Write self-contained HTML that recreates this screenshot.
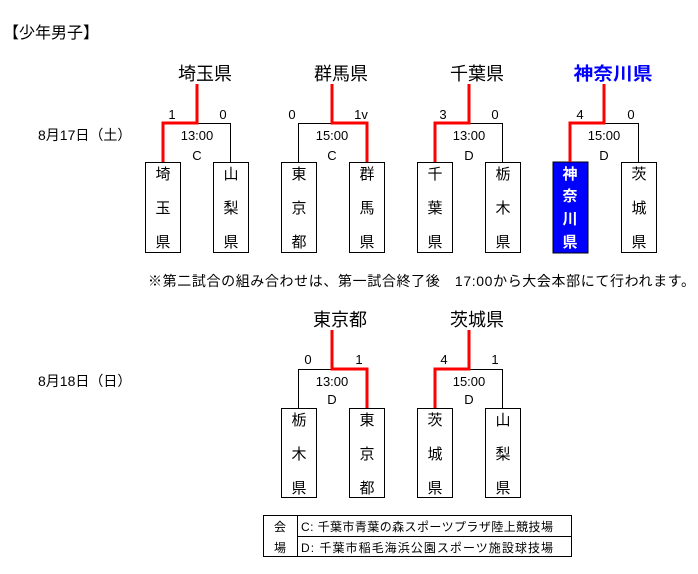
<!DOCTYPE html>
<html><head><meta charset="utf-8"><style>
body{margin:0;background:#fff;}
svg{display:block;font-family:"Liberation Sans","Noto Sans CJK JP",sans-serif;}
</style></head><body>
<svg width="698" height="574" viewBox="0 0 698 574" xmlns="http://www.w3.org/2000/svg">
<g font-size="15" fill="#000">
<text x="3" y="38" font-size="16">【少年男子】</text>
<text x="38" y="140" font-size="14">8月17日（土）</text>
<text x="38" y="386" font-size="14">8月18日（日）</text>
<text x="148" y="286" font-size="14" textLength="547" lengthAdjust="spacing">※第二試合の組み合わせは、第一試合終了後　17:00から大会本部にて行われます。</text>
</g>
<g fill="none" stroke="#000" stroke-width="1">
<rect x="145.5" y="162.5" width="35" height="90"/><rect x="213.5" y="162.5" width="35" height="90"/>
<rect x="281.5" y="162.5" width="35" height="90"/><rect x="349.5" y="162.5" width="35" height="90"/>
<rect x="417.5" y="162.5" width="35" height="90"/><rect x="485.5" y="162.5" width="35" height="90"/>
<rect x="621.5" y="162.5" width="35" height="90"/>
<rect x="281.5" y="408.5" width="35" height="89"/><rect x="349.5" y="408.5" width="35" height="89"/>
<rect x="417.5" y="408.5" width="35" height="89"/><rect x="485.5" y="408.5" width="35" height="89"/>
<polyline points="197,123.5 230.5,123.5 230.5,162"/>
<polyline points="332,123.5 298.5,123.5 298.5,162"/>
<polyline points="469,123.5 502.5,123.5 502.5,162"/>
<polyline points="604,123.5 638.5,123.5 638.5,162"/>
<polyline points="332,369.5 298.5,369.5 298.5,408"/>
<polyline points="469,369.5 502.5,369.5 502.5,408"/>
</g>
<rect x="553" y="162" width="35" height="91" fill="#0000ff" stroke="#000"/>
<g fill="none" stroke="#ff0000" stroke-width="3">
<polyline points="197,84 197,123 163,123 163,162"/>
<polyline points="332,84 332,123 367,123 367,162"/>
<polyline points="469,84 469,123 435,123 435,162"/>
<polyline points="604,84 604,123 570,123 570,162"/>
<polyline points="332,330 332,369 367,369 367,408"/>
<polyline points="469,330 469,369 435,369 435,408"/>
</g>
<g font-size="18" text-anchor="middle">
<text x="205" y="80">埼玉県</text><text x="341" y="80">群馬県</text><text x="477" y="80">千葉県</text>
<text x="613" y="80" fill="#0000ff" font-weight="bold" textLength="79" lengthAdjust="spacingAndGlyphs">神奈川県</text>
<text x="340" y="326">東京都</text><text x="477" y="326">茨城県</text>
</g>
<g font-size="13" text-anchor="middle">
<text x="172" y="119">1</text><text x="223" y="119">0</text>
<text x="292" y="119">0</text><text x="361" y="119">1v</text>
<text x="443" y="119">3</text><text x="495" y="119">0</text>
<text x="580" y="119">4</text><text x="631" y="119">0</text>
<text x="308" y="364">0</text><text x="359" y="364">1</text>
<text x="444" y="364">4</text><text x="495" y="364">1</text>
<text x="197" y="140">13:00</text><text x="197" y="160">C</text>
<text x="332" y="140">15:00</text><text x="332" y="160">C</text>
<text x="469" y="140">13:00</text><text x="469" y="160">D</text>
<text x="604" y="140">15:00</text><text x="604" y="160">D</text>
<text x="332" y="386">13:00</text><text x="332" y="404">D</text>
<text x="469" y="386">15:00</text><text x="469" y="404">D</text>
</g>
<g font-size="15" text-anchor="middle">
<text x="163" y="179">埼</text><text x="163" y="213">玉</text><text x="163" y="247">県</text>
<text x="231" y="179">山</text><text x="231" y="213">梨</text><text x="231" y="247">県</text>
<text x="299" y="179">東</text><text x="299" y="213">京</text><text x="299" y="247">都</text>
<text x="367" y="179">群</text><text x="367" y="213">馬</text><text x="367" y="247">県</text>
<text x="435" y="179">千</text><text x="435" y="213">葉</text><text x="435" y="247">県</text>
<text x="503" y="179">栃</text><text x="503" y="213">木</text><text x="503" y="247">県</text>
<g fill="#fff" font-weight="bold"><text x="570" y="179">神</text><text x="570" y="201">奈</text><text x="570" y="224">川</text><text x="570" y="247">県</text></g>
<text x="639" y="179">茨</text><text x="639" y="213">城</text><text x="639" y="247">県</text>
<text x="299" y="425">栃</text><text x="299" y="459">木</text><text x="299" y="493">県</text>
<text x="367" y="425">東</text><text x="367" y="459">京</text><text x="367" y="493">都</text>
<text x="435" y="425">茨</text><text x="435" y="459">城</text><text x="435" y="493">県</text>
<text x="503" y="425">山</text><text x="503" y="459">梨</text><text x="503" y="493">県</text>
</g>
<g fill="none" stroke="#000">
<rect x="263.5" y="515.5" width="308" height="41"/>
<line x1="297.5" y1="515.5" x2="297.5" y2="556.5"/>
<line x1="297.5" y1="536.5" x2="571.5" y2="536.5"/>
</g>
<g font-size="12">
<text x="280" y="531" text-anchor="middle">会</text>
<text x="280" y="552" text-anchor="middle">場</text>
<text x="301" y="531" textLength="252" lengthAdjust="spacing">C: 千葉市青葉の森スポーツプラザ陸上競技場</text>
<text x="301" y="552" textLength="252" lengthAdjust="spacing">D: 千葉市稲毛海浜公園スポーツ施設球技場</text>
</g>
</svg>
</body></html>
